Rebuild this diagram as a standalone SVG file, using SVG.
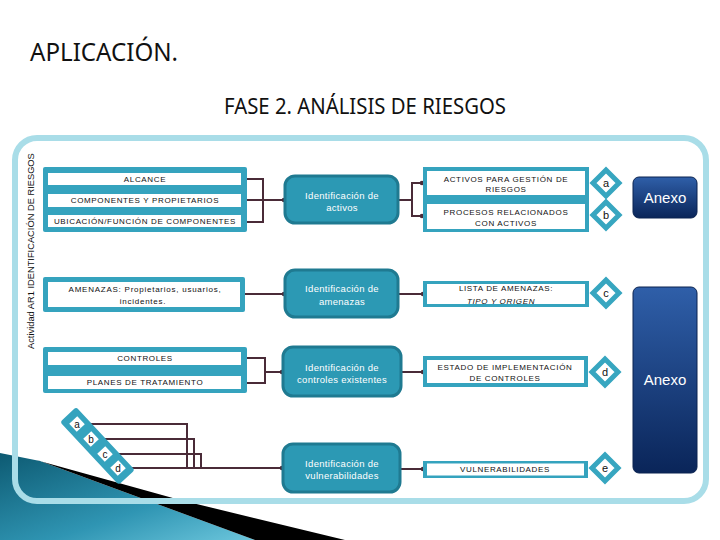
<svg xmlns="http://www.w3.org/2000/svg" width="720" height="540" viewBox="0 0 720 540">
  <defs>
    <style>
      .conn{stroke:#4a2b38;stroke-width:2;fill:none}
      .teal{fill:#35a3be}
      .wbar{fill:#ffffff}
      .lbl{font-family:"Liberation Sans",Arial,sans-serif;font-size:8px;letter-spacing:0.65px;fill:#111;text-anchor:middle}
      .mixed{letter-spacing:0.75px}
      .mid{fill:#2c99b4;stroke:#1f7a91;stroke-width:3}
      .midT{font-family:"Liberation Sans",Arial,sans-serif;font-size:9.5px;letter-spacing:0.3px;fill:#ffffff;text-anchor:middle}
      .dia{fill:#ffffff;stroke:#37a6c0;stroke-width:5}
      .dT{font-family:"Liberation Sans",Arial,sans-serif;font-size:11px;fill:#111;text-anchor:middle}
      .sT{font-family:"Liberation Sans",Arial,sans-serif;font-size:10px;fill:#111;text-anchor:middle}
      .anexo{fill:url(#blueG);stroke:#0a2350;stroke-width:1}
      .anexoT{font-family:"Liberation Sans",Arial,sans-serif;font-size:15px;fill:#ffffff;text-anchor:middle}
      .title{font-family:"Noto Sans","Open Sans",sans-serif;fill:#111}
    </style>
    <linearGradient id="blueG" x1="0" y1="0" x2="0" y2="1">
      <stop offset="0" stop-color="#2f5fa9"/>
      <stop offset="1" stop-color="#0a2559"/>
    </linearGradient>
    <linearGradient id="swoosh" x1="0" y1="0" x2="1" y2="1">
      <stop offset="0" stop-color="#0d5a72"/>
      <stop offset="0.6" stop-color="#2f95b3"/>
      <stop offset="1" stop-color="#6cc6dc"/>
    </linearGradient>
    <marker id="dot" markerWidth="6" markerHeight="6" refX="3" refY="3" markerUnits="userSpaceOnUse">
      <circle cx="3" cy="3" r="2.3" fill="#4a2b38"/>
    </marker>
  </defs>

  <rect x="0" y="0" width="720" height="540" fill="#ffffff"/>

  <!-- background swoosh -->
  <path d="M0,453 L40,461 L255,540 L0,540 Z" fill="url(#swoosh)"/>
  <path d="M36,460 L180,500 L345,540 L255,540 L40,461 Z" fill="#000000"/>

  <!-- titles -->
  <text class="title" x="30" y="61" font-size="25" textLength="148" lengthAdjust="spacingAndGlyphs">APLICACIÓN.</text>
  <text class="title" x="224" y="114" font-size="21" textLength="282" lengthAdjust="spacingAndGlyphs">FASE 2. ANÁLISIS DE RIESGOS</text>

  <!-- outer frame -->
  <rect x="15" y="138" width="691" height="363" rx="22" fill="none" stroke="#a9dde8" stroke-width="6"/>
  <text transform="translate(33.5,349) rotate(-90)" font-family="Liberation Sans, Arial, sans-serif" font-size="9.3" fill="#111">Actividad AR1 IDENTIFICACIÓN DE RIESGOS</text>

  <!-- connectors -->
  <g id="connectors">
    <path class="conn" d="M247,179 H263 V222 H247"/>
    <path class="conn" d="M247,200 H284" marker-end="url(#dot)"/>
    <path class="conn" d="M398,200 H412"/>
    <path class="conn" d="M423,183 H412 V216 H422" marker-end="url(#dot)"/>
    <path class="conn" d="M412,183 H422" marker-end="url(#dot)"/>
    <path class="conn" d="M245,294 H284" marker-end="url(#dot)"/>
    <path class="conn" d="M398,294 H423" marker-end="url(#dot)"/>
    <path class="conn" d="M247,358 H265 V383 H247"/>
    <path class="conn" d="M265,372 H282" marker-end="url(#dot)"/>
    <path class="conn" d="M402,372 H423" marker-end="url(#dot)"/>
    <path class="conn" d="M88,424 H187 V468"/>
    <path class="conn" d="M102,439 H194 V468"/>
    <path class="conn" d="M117,454 H201 V468"/>
    <path class="conn" d="M132,468 H282" marker-end="url(#dot)"/>
    <path class="conn" d="M400,469 H423" marker-end="url(#dot)"/>
  </g>

  <!-- left column -->
  <g id="alcance-group">
    <rect class="teal" x="43" y="167" width="204" height="65" rx="2"/>
    <rect class="wbar" x="48" y="173" width="193" height="12"/>
    <rect class="wbar" x="48" y="194" width="193" height="13"/>
    <rect class="wbar" x="48" y="215" width="193" height="12"/>
    <text class="lbl" x="145" y="181.8">ALCANCE</text>
    <text class="lbl" x="145" y="203.3">COMPONENTES Y PROPIETARIOS</text>
    <text class="lbl" x="145" y="223.8">UBICACIÓN/FUNCIÓN DE COMPONENTES</text>
  </g>
  <g id="amenazas-left">
    <rect class="teal" x="43" y="277" width="202" height="35" rx="2"/>
    <rect class="wbar" x="48" y="282" width="192" height="25"/>
    <text class="lbl mixed" x="145" y="292">AMENAZAS: Propietarios, usuarios,</text>
    <text class="lbl mixed" x="143" y="304">incidentes.</text>
  </g>
  <g id="controles-group">
    <rect class="teal" x="43" y="347" width="204" height="46" rx="2"/>
    <rect class="wbar" x="48" y="352" width="193" height="13"/>
    <rect class="wbar" x="48" y="376" width="193" height="13"/>
    <text class="lbl" x="145" y="361.3">CONTROLES</text>
    <text class="lbl" x="145" y="385.3">PLANES DE TRATAMIENTO</text>
  </g>
  <g id="abcd-strip">
    <rect class="teal" x="-13" y="-11" width="86" height="22" rx="3" transform="translate(77,424) rotate(47)"/>
    <rect class="wbar" x="-5.5" y="-5.5" width="11" height="11" transform="translate(77,424) rotate(47)"/>
    <rect class="wbar" x="-5.5" y="-5.5" width="11" height="11" transform="translate(91,439) rotate(47)"/>
    <rect class="wbar" x="-5.5" y="-5.5" width="11" height="11" transform="translate(105,454) rotate(47)"/>
    <rect class="wbar" x="-5.5" y="-5.5" width="11" height="11" transform="translate(118,468) rotate(47)"/>
    <text class="sT" x="77" y="427.5">a</text>
    <text class="sT" x="91" y="442.5">b</text>
    <text class="sT" x="105" y="457.5">c</text>
    <text class="sT" x="118" y="471.5">d</text>
  </g>

  <!-- middle column -->
  <g id="id-activos">
    <rect class="mid" x="285" y="176" width="113" height="47" rx="10"/>
    <text class="midT" x="342" y="198.5">Identificación de</text>
    <text class="midT" x="342" y="210.5">activos</text>
  </g>
  <g id="id-amenazas">
    <rect class="mid" x="285" y="270" width="113" height="47" rx="10"/>
    <text class="midT" x="342" y="291.5">Identificación de</text>
    <text class="midT" x="342" y="304.5">amenazas</text>
  </g>
  <g id="id-controles">
    <rect class="mid" x="283" y="347" width="118" height="49" rx="10"/>
    <text class="midT" x="342" y="370.5">Identificación de</text>
    <text class="midT" x="342" y="382.5">controles existentes</text>
  </g>
  <g id="id-vulnerabilidades">
    <rect class="mid" x="283" y="444" width="117" height="48" rx="10"/>
    <text class="midT" x="342" y="466.5">Identificación de</text>
    <text class="midT" x="342" y="478.5">vulnerabilidades</text>
  </g>

  <!-- right column -->
  <g id="activos-procesos">
    <rect class="teal" x="423" y="167" width="166" height="65"/>
    <rect class="wbar" x="427" y="171" width="158" height="24"/>
    <rect class="wbar" x="427" y="204" width="158" height="25"/>
    <text class="lbl" x="506" y="181.8">ACTIVOS PARA GESTIÓN DE</text>
    <text class="lbl" x="506" y="191.8">RIESGOS</text>
    <text class="lbl" x="506" y="214.8">PROCESOS RELACIONADOS</text>
    <text class="lbl" x="506" y="225.8">CON ACTIVOS</text>
  </g>
  <g id="lista-amenazas">
    <rect class="teal" x="423" y="281" width="166" height="26"/>
    <rect class="wbar" x="427" y="284" width="158" height="20"/>
    <text class="lbl" x="506" y="290.8">LISTA DE AMENAZAS:</text>
    <text class="lbl" x="501" y="303.8" font-style="italic">TIPO Y ORIGEN</text>
  </g>
  <g id="estado-controles">
    <rect class="teal" x="423" y="356" width="165" height="31"/>
    <rect class="wbar" x="427" y="360" width="157" height="23"/>
    <text class="lbl" x="505" y="369.8">ESTADO DE IMPLEMENTACIÓN</text>
    <text class="lbl" x="505" y="380.8">DE CONTROLES</text>
  </g>
  <g id="vulnerabilidades">
    <rect class="teal" x="423" y="461" width="165" height="17"/>
    <rect class="wbar" x="427" y="463.5" width="157" height="12"/>
    <text class="lbl" x="505" y="472">VULNERABILIDADES</text>
  </g>

  <!-- diamonds -->
  <g id="dia-a"><path class="dia" d="M606,170 L619,183 L606,196 L593,183 Z"/><text class="dT" x="606" y="187">a</text></g>
  <g id="dia-b"><path class="dia" d="M606,202 L619,215 L606,228 L593,215 Z"/><text class="dT" x="606" y="219">b</text></g>
  <g id="dia-c"><path class="dia" d="M606,280 L619,293 L606,306 L593,293 Z"/><text class="dT" x="606" y="297">c</text></g>
  <g id="dia-d"><path class="dia" d="M605,359 L618,372 L605,385 L592,372 Z"/><text class="dT" x="605" y="376">d</text></g>
  <g id="dia-e"><path class="dia" d="M605,455 L618,468 L605,481 L592,468 Z"/><text class="dT" x="605" y="472">e</text></g>

  <!-- anexo -->
  <g id="anexo-1">
    <rect class="anexo" x="633" y="177" width="64" height="41" rx="6"/>
    <text class="anexoT" x="665" y="203">Anexo</text>
  </g>
  <g id="anexo-2">
    <rect class="anexo" x="633" y="287" width="64" height="186" rx="6"/>
    <text class="anexoT" x="665" y="385">Anexo</text>
  </g>
</svg>
